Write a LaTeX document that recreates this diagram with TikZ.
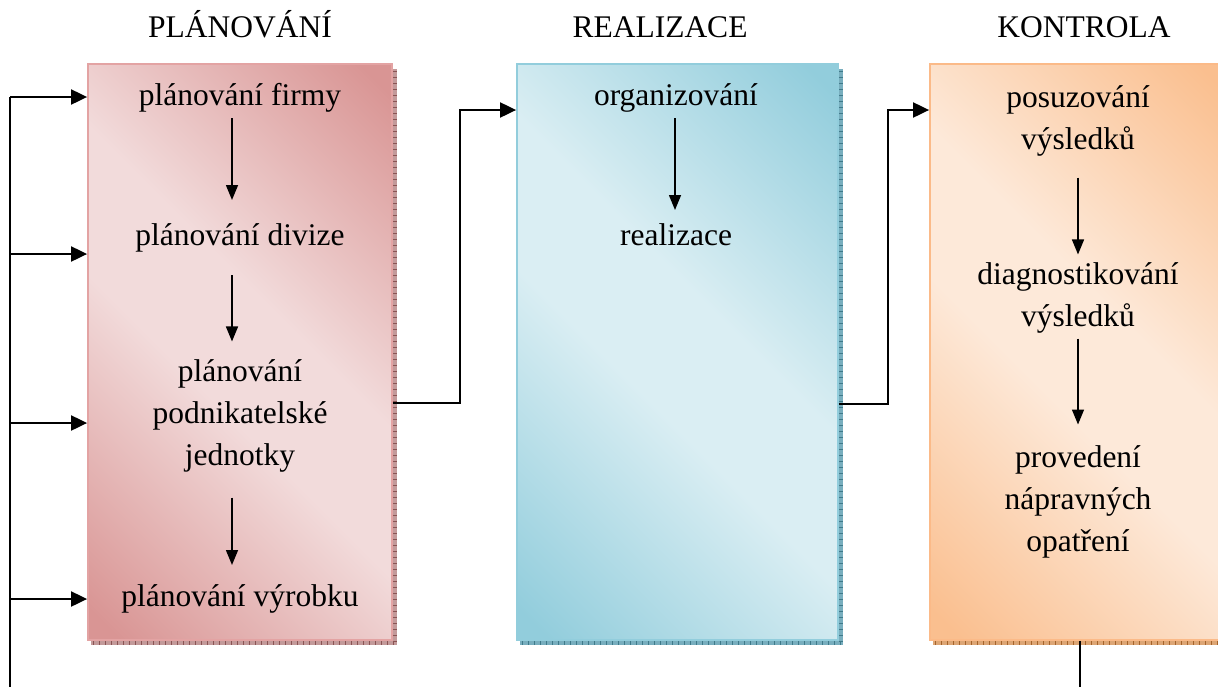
\documentclass[tikz,border=0pt]{standalone}
\usepackage{fontspec}
\setmainfont{Liberation Serif}
\usetikzlibrary{arrows.meta,calc,backgrounds}
\definecolor{pD}{HTML}{D99594}
\definecolor{pL}{HTML}{F2DBDB}
\definecolor{pB}{HTML}{E3A3A3}
\definecolor{bD}{HTML}{92CDDC}
\definecolor{bL}{HTML}{DAEEF3}
\definecolor{bB}{HTML}{92CDDC}
\definecolor{oD}{HTML}{FABF8F}
\definecolor{oL}{HTML}{FDE9D9}
\definecolor{oB}{HTML}{FBBA88}
\definecolor{sh1}{HTML}{C39A9A}
\definecolor{tk1}{HTML}{8A5454}
\definecolor{sh2}{HTML}{78AEBE}
\definecolor{tk2}{HTML}{3F7A8A}
\definecolor{sh3}{HTML}{DDA675}
\definecolor{tk3}{HTML}{A5642C}
\pgfdeclareverticalshading{pinkshade}{100bp}{color(0bp)=(pD); color(17bp)=(pD); color(44bp)=(pL); color(56bp)=(pL); color(83bp)=(pD); color(100bp)=(pD)}
\pgfdeclareverticalshading{blueshade}{100bp}{color(0bp)=(bD); color(17bp)=(bD); color(44bp)=(bL); color(56bp)=(bL); color(83bp)=(bD); color(100bp)=(bD)}
\pgfdeclareverticalshading{orangeshade}{100bp}{color(0bp)=(oD); color(17bp)=(oD); color(44bp)=(oL); color(56bp)=(oL); color(83bp)=(oD); color(100bp)=(oD)}
\begin{document}
\begin{tikzpicture}[x=1pt,y=-1pt,
  txt/.style={font=\fontsize{31.5}{42}\selectfont, inner sep=0pt, align=center},
  arr/.style={-{Triangle[length=15pt,width=12pt]}, line width=1.5pt},
  big/.style={-{Triangle[length=16pt,width=15pt]}, line width=2pt},
  conn/.style={line width=2pt},
  box/.style={inner sep=0pt, line width=1.8pt, minimum height=576pt}
]
\useasboundingbox (0,0) rectangle (1218,686);

% boxes
\node[box, draw=pB, shading=pinkshade, shading angle=-45, minimum width=304pt] (box1) at (240,352) {};
\node[box, draw=bB, shading=blueshade, shading angle=-45, minimum width=321pt] (box2) at (677.5,352) {};
\node[box, draw=oB, shading=orangeshade, shading angle=-45, minimum width=300pt] (box3) at (1080,352) {};

% shadows
\begin{scope}[on background layer]
\foreach \b/\f/\t in {box1/sh1/tk1, box2/sh2/tk2, box3/sh3/tk3} {
  \fill[\f] ($(\b.north east)+(0,6)$) rectangle ($(\b.south east)+(4,4)$);
  \fill[\f] ($(\b.south west)+(4,0)$) rectangle ($(\b.south east)+(4,4)$);
  \draw[\t, line width=4pt, dash pattern=on 1pt off 5pt] ($(\b.north east)+(2,8)$) -- ($(\b.south east)+(2,2)$);
  \draw[\t, line width=4pt, dash pattern=on 1pt off 5pt] ($(\b.south west)+(6,2)$) -- ($(\b.south east)+(2,2)$);
}
\end{scope}

% titles
\node[txt, anchor=base] (h1) at (240,37) {PLÁNOVÁNÍ};
\node[txt, anchor=base] (h2) at (660,37) {REALIZACE};
\node[txt, anchor=base] (h3) at (1084,37) {KONTROLA};

% box 1 texts
\node[txt, anchor=base] (t11) at (240,105) {plánování firmy};
\node[txt, anchor=base] (t12) at (240,245) {plánování divize};
\node[txt] (t13) at (240,416) {plánování\\podnikatelské\\jednotky};
\node[txt, anchor=base] (t14) at (240,606) {plánování výrobku};
% box 2 texts
\node[txt, anchor=base] (t21) at (676,105) {organizování};
\node[txt, anchor=base] (t22) at (676,245) {realizace};
% box 3 texts
\node[txt] (t31) at (1078,121) {posuzování\\výsledků};
\node[txt] (t32) at (1078,298) {diagnostikování\\výsledků};
\node[txt] (t33) at (1078,502) {provedení\\nápravných\\opatření};

% inner arrows
\draw[arr] ($(t11.base)+(-8,13)$) -- ($(t12.base)+(-8,-45)$);
\draw[arr] ($(t12.base)+(-8,30)$) -- ($(t13.north)+(-8,-18)$);
\draw[arr] ($(t13.south)+(-8,25)$) -- ($(t14.base)+(-8,-41)$);
\draw[arr] ($(t21.base)+(-1,13)$) -- ($(t22.base)+(-1,-35)$);
\draw[arr] ($(t31.south)+(0,21)$) -- ($(t32.north)+(0,-8)$);
\draw[arr] ($(t32.south)+(0,5)$) -- ($(t33.north)+(0,-21)$);

% connectors between boxes
\draw[big] ($(box1.east)+(0,51)$) -- ++(67,0) |- ($(box2.west)+(0,-242)$);
\draw[big] ($(box2.east)+(0,52)$) -- ++(49,0) |- ($(box3.west)+(0,-242)$);

% feedback loop
\coordinate (L1) at (10,97);
\coordinate (L2) at (10,254);
\coordinate (L3) at (10,423);
\coordinate (L4) at (10,599);
\draw[conn] (box3.south) -- ++(0,70) -| (L1);
\foreach \i in {1,...,4} \draw[big] (L\i) -- (L\i -| box1.west);
\end{tikzpicture}
\end{document}
